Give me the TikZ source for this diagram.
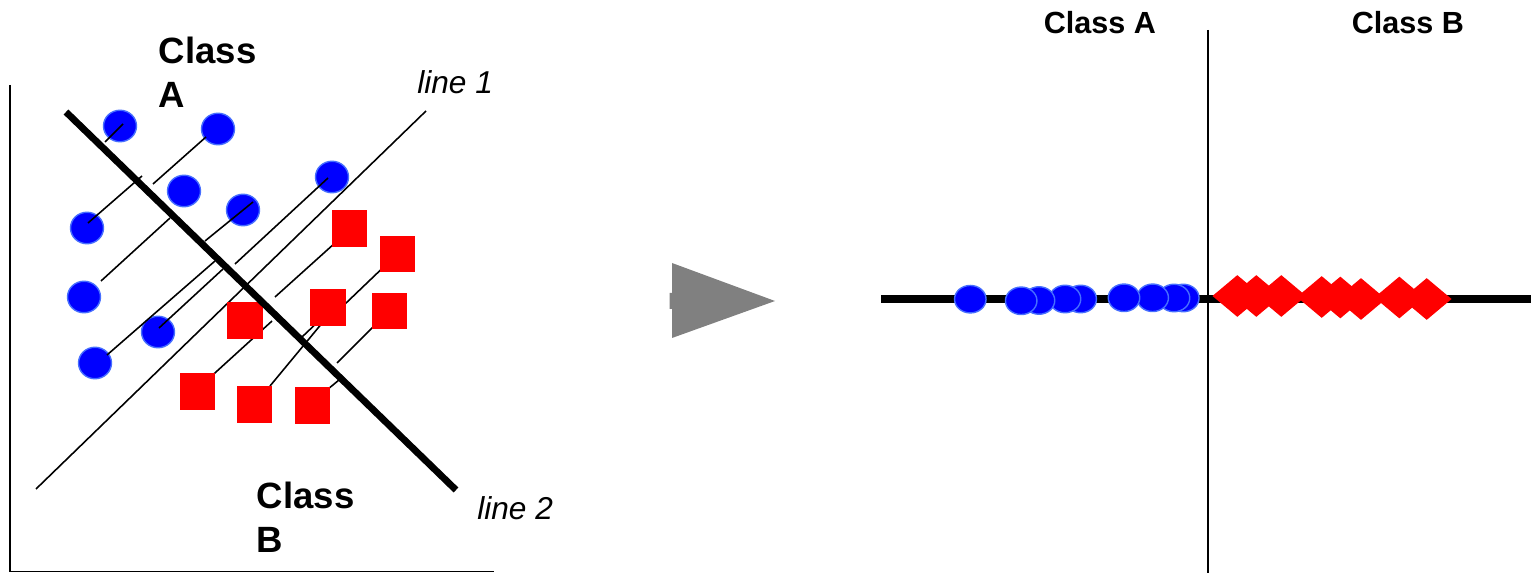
\documentclass[tikz,border=0pt]{standalone}
\usepackage{fontspec}
\setmainfont{Liberation Sans}
\usetikzlibrary{shapes.geometric}
\definecolor{dotblue}{RGB}{0,0,255}
\definecolor{dotedge}{RGB}{70,110,255}
\definecolor{boxred}{RGB}{255,0,0}
\definecolor{arrowgray}{RGB}{128,128,128}

\begin{document}
\begin{tikzpicture}[x=0.02cm,y=-0.02cm,
  bluedot/.style={ellipse, fill=dotblue, draw=dotedge, line width=0.8pt,
    inner sep=0pt, minimum width=0.66cm, minimum height=0.63cm},
  flatdot/.style={bluedot, minimum width=0.63cm, minimum height=0.55cm},
  redbox/.style={rectangle, fill=boxred, draw=none, inner sep=0pt,
    minimum width=0.706cm, minimum height=0.732cm},
  reddiamond/.style={diamond, fill=boxred, draw=none, inner sep=0pt,
    minimum width=1.0cm, minimum height=0.84cm},
  axis/.style={line width=1pt},
  thin/.style={line width=0.9pt},
  heavy/.style={line width=3.9pt},
  classlbl/.style={font=\bfseries\fontsize{20.8}{25}\selectfont,
    inner sep=0pt, align=left},
  toplbl/.style={font=\bfseries\fontsize{17.4}{21}\selectfont, inner sep=0pt},
  linelbl/.style={font=\itshape\fontsize{18}{21.6}\selectfont, inner sep=0pt}]
\useasboundingbox (0,0) rectangle (1531,573);

% ---------------- left panel: scatter with two directions ----------------
% axes
\coordinate (ytop) at (10,85);
\coordinate (origin) at (10,571.5);
\coordinate (xend) at (494,571.5);
\draw[axis] (ytop) -- (origin) -- (xend);

% class A samples
\node[bluedot] (c1) at (120,126) {};
\node[bluedot] (c2) at (218,129) {};
\node[bluedot] (c3) at (184,191) {};
\node[bluedot] (c4) at (243,210) {};
\node[bluedot] (c5) at (332,177) {};
\node[bluedot] (c6) at (87,228) {};
\node[bluedot] (c7) at (84,297) {};
\node[bluedot] (c8) at (158,332) {};
\node[bluedot] (c9) at (95,363) {};

% projection strokes
\draw[thin] (123,124) -- (105,142);
\draw[thin] (206,137) -- (153,184);
\draw[thin] (88,223) -- (142,176);
\draw[thin] (101,281) -- (170,218);
\draw[thin] (253,202) -- (205,241);
\draw[thin] (328,178) -- (235,264);
\draw[thin] (159,328) -- (223,269);
\draw[thin] (107,355) -- (215,261);
\draw[thin] (345,234) -- (275,297);
\draw[thin] (392,259) -- (344,305);
\draw[thin] (322,318) -- (302,337);
\draw[thin] (323,322) -- (270,386);
\draw[thin] (383,317) -- (337,363);
\draw[thin] (322,394) -- (339,380);
\draw[thin] (205,382) -- (272,321);

% line 1
\coordinate (l1a) at (36,489);
\coordinate (l1b) at (426,111);
\draw[thin] (l1a) -- (l1b);

% class B samples
\node[redbox] (s1) at (349.7,228.5) {};
\node[redbox] (s2) at (397.3,254) {};
\node[redbox] (s3) at (328,307.3) {};
\node[redbox] (s4) at (389.3,311) {};
\node[redbox] (s5) at (245,320.7) {};
\node[redbox] (s6) at (254.7,404.3) {};
\node[redbox] (s7) at (312.8,405.3) {};
\node[redbox] (s8) at (197.5,391.7) {};

% line 2
\coordinate (l2a) at (66,112);
\coordinate (l2b) at (456,490);
\draw[heavy] (l2a) -- (l2b);

% labels
\node[classlbl, anchor=north west] (lblA) at (158.5,36.5) {Class\\A};
\node[classlbl, anchor=north west] (lblB) at (256.5,481.5) {Class\\B};
\node[linelbl, anchor=base west] (lbl1) at (417,94) {line 1};
\node[linelbl, anchor=base west] (lbl2) at (477,520) {line 2};

% ---------------- arrow ----------------
\fill[arrowgray] (669.5,293) -- (672,293) -- (672,263) -- (775,301)
  -- (672,338) -- (672,309) -- (669.5,309) -- cycle;

% ---------------- right panel: projected samples ----------------
\coordinate (vtop) at (1208,30);
\coordinate (vbot) at (1208,573);
\draw[line width=1.1pt] (vtop) -- (vbot);
\coordinate (hl) at (881,299);
\coordinate (hr) at (1531,299);
\draw[line width=4pt] (hl) -- (hr);

\node[flatdot] (r9) at (1183.3,298) {};
\node[flatdot] (r8) at (1174,298) {};
\node[flatdot] (r7) at (1152.7,297.8) {};
\node[flatdot] (r6) at (1124,297.8) {};
\node[flatdot] (r5) at (1080.7,299) {};
\node[flatdot] (r4) at (1065,299) {};
\node[flatdot] (r3) at (1039,300.5) {};
\node[flatdot] (r2) at (1021.2,300.8) {};
\node[flatdot] (r1) at (970.3,299.2) {};

\node[reddiamond] (d1) at (1237.3,296) {};
\node[reddiamond] (d2) at (1256.3,296) {};
\node[reddiamond] (d3) at (1281.3,296) {};
\node[reddiamond] (d4) at (1321.7,297) {};
\node[reddiamond] (d5) at (1340.3,297.5) {};
\node[reddiamond] (d6) at (1361,299) {};
\node[reddiamond] (d7) at (1399.3,297.5) {};
\node[reddiamond] (d8) at (1426.7,299) {};

\node[toplbl, anchor=base west] (topA) at (1043.5,33.5) {Class A};
\node[toplbl, anchor=base west] (topB) at (1351.5,33.5) {Class B};
\end{tikzpicture}
\end{document}
